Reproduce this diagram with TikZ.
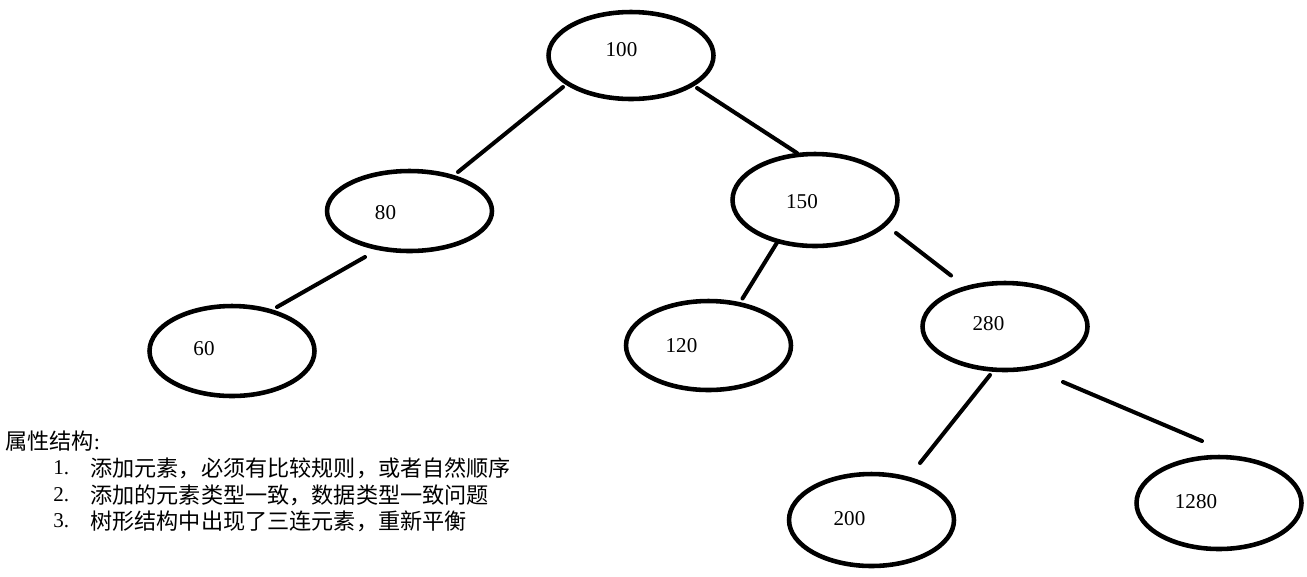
\documentclass[tikz,border=0pt]{standalone}
\usepackage{fontspec}
\setmainfont{Liberation Serif}
\newfontfamily\cjk{Noto Sans CJK SC}
\usetikzlibrary{shapes.geometric,calc}

\begin{document}
\begin{tikzpicture}[x=0.02cm,y=-0.02cm,
  treenode/.style={ellipse,draw,line width=2.6pt,inner sep=0pt,outer sep=0pt,
    minimum width=3.3cm},
  keytext/.style={font=\fontsize{12pt}{14pt}\selectfont,inner sep=0pt},
  edge/.style={line width=2.3pt,line cap=round},
  notetext/.style={font=\cjk\fontsize{12.6pt}{14pt}\selectfont,anchor=west,inner sep=0pt},
  numtext/.style={font=\fontsize{12pt}{14pt}\selectfont,anchor=west,inner sep=0pt}]
\useasboundingbox (0,0) rectangle (1307,576);

% tree nodes
\node[treenode,minimum height=1.74cm] (n100) at (631,55.5) {};
\node[treenode,minimum height=1.60cm] (n80) at (409.5,211) {};
\node[treenode,minimum height=1.84cm] (n150) at (815,200) {};
\node[treenode,minimum height=1.80cm] (n60) at (232,351) {};
\node[treenode,minimum height=1.78cm] (n120) at (708.5,345.5) {};
\node[treenode,minimum height=1.74cm] (n280) at (1005,326.5) {};
\node[treenode,minimum height=1.84cm] (n200) at (871.5,520) {};
\node[treenode,minimum height=1.84cm] (n1280) at (1219,503) {};

% key labels, set left of each centre
\node[keytext] (k100) at (621.5,50) {100};
\node[keytext] (k80) at (385.5,213) {80};
\node[keytext] (k150) at (802,202) {150};
\node[keytext] (k60) at (204,349) {60};
\node[keytext] (k120) at (681.5,346) {120};
\node[keytext] (k280) at (988.5,324) {280};
\node[keytext] (k200) at (849.5,519) {200};
\node[keytext] (k1280) at (1196,502) {1280};

% edges
\draw[edge] ($(n100.center)+(-68,31.5)$) -- ($(n80.center)+(48.5,-39)$);
\draw[edge] ($(n100.center)+(66,32.5)$) -- ($(n150.center)+(-18,-47)$);
\draw[edge] ($(n80.center)+(-44.5,46)$) -- ($(n60.center)+(45,-44)$);
\draw[edge] ($(n150.center)+(-37,41)$) -- ($(n120.center)+(34,-47)$);
\draw[edge] ($(n150.center)+(81,33)$) -- ($(n280.center)+(-54,-51)$);
\draw[edge] ($(n280.center)+(-15,48.5)$) -- ($(n200.center)+(48.5,-57)$);
\draw[edge] ($(n280.center)+(58,55.5)$) -- ($(n1280.center)+(-17,-62)$);

% notes
\node[notetext] (title) at (5,441) {属性结构{\rmfamily:}};
\node[numtext] (num1) at (53,468) {1.};
\node[notetext] (item1) at (90,468) {添加元素，必须有比较规则，或者自然顺序};
\node[numtext] (num2) at (53,495) {2.};
\node[notetext] (item2) at (90,495) {添加的元素类型一致，数据类型一致问题};
\node[numtext] (num3) at (53,521) {3.};
\node[notetext] (item3) at (90,521) {树形结构中出现了三连元素，重新平衡};
\end{tikzpicture}
\end{document}
